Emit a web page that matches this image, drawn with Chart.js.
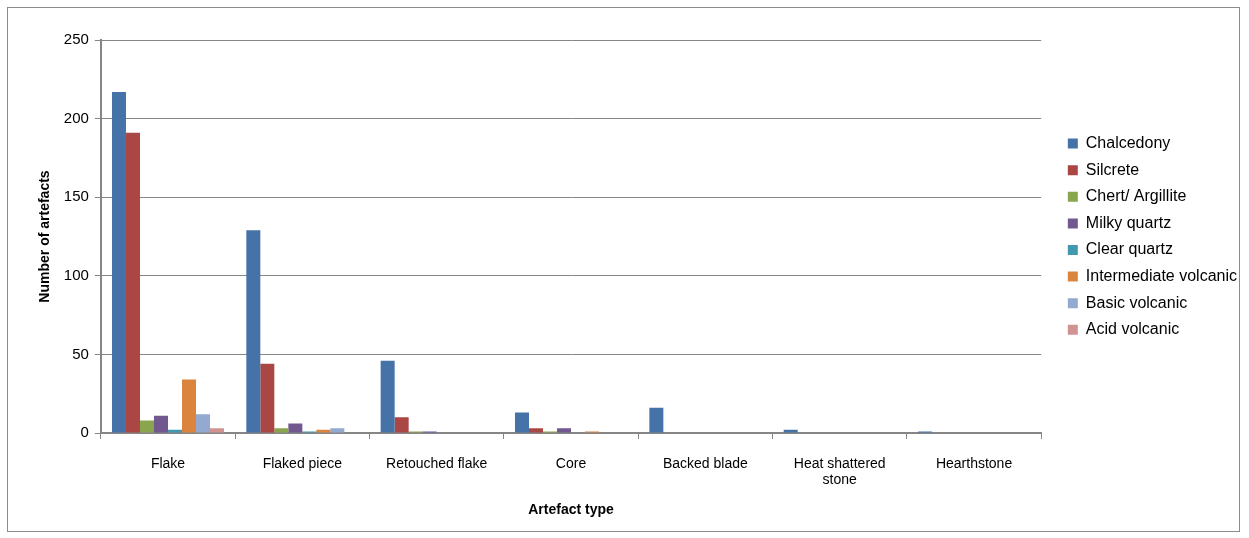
<!DOCTYPE html>
<html>
<head>
<meta charset="utf-8">
<script src="https://cdn.jsdelivr.net/npm/chart.js@4"></script>
<style>
  html, body { margin: 0; padding: 0; background: #fff; }
  #wrap { position: relative; width: 1249px; height: 538px; }
  #frame { position: absolute; left: 7px; top: 7px; width: 1233px; height: 525px; border: 1px solid #8c8c8c; box-sizing: border-box; pointer-events: none; }
  canvas { position: absolute; left: 0; top: 0; }
</style>
</head>
<body>
<div id="wrap">
  <canvas id="grafico" width="1249" height="538"></canvas>
  <div id="frame"></div>
</div>
<script>
// Categorias e séries
const tipos = ['Flake', 'Flaked piece', 'Retouched flake', 'Core', 'Backed blade', ['Heat shattered', 'stone'], 'Hearthstone'];
const materiais = ['Chalcedony', 'Silcrete', 'Chert/ Argillite', 'Milky quartz', 'Clear quartz', 'Intermediate volcanic', 'Basic volcanic', 'Acid volcanic'];

const chalcedony   = [217, 129, 46, 13, 16, 2, 1];
const silcrete     = [191, 44, 10, 3, 0, 0, 0];
const chert        = [8, 3, 1, 1, 0, 0, 0];
const milkyQuartz  = [11, 6, 1, 3, 0, 0, 0];
const clearQuartz  = [2, 1, 0, 0, 0, 0, 0];
const intermediate = [34, 2, 0, 1, 0, 0, 0];
const basic        = [12, 3, 0, 0, 0, 0, 0];
const acid         = [3, 0, 0, 0, 0, 0, 0];

const yTicks = [0, 50, 100, 150, 200, 250];

const cores = ['#4572A7', '#AA4643', '#89A54E', '#71588F', '#4198AF', '#DB843D', '#93A9CF', '#D19392'];
const series = [chalcedony, silcrete, chert, milkyQuartz, clearQuartz, intermediate, basic, acid];

const fonte = 'Liberation Sans, Arial, sans-serif';

const ctx = document.getElementById('grafico').getContext('2d');
new Chart(ctx, {
    type: 'bar',
    data: {
        labels: tipos,
        datasets: series.map((valores, i) => ({
            label: materiais[i],
            data: valores,
            backgroundColor: cores[i],
            borderWidth: 0,
            categoryPercentage: 0.834,
            barPercentage: 1
        }))
    },
    options: {
        responsive: false,
        animation: false,
        layout: { padding: { top: 40, left: 33, right: 2, bottom: 15 } },
        plugins: {
            tooltip: { enabled: false },
            legend: {
                position: 'right',
                align: 'start',
                title: { display: true, text: ' ', font: { size: 10 }, padding: { top: 0, bottom: 73 } },
                labels: {
                    boxWidth: 10,
                    boxHeight: 10,
                    padding: 10.6,
                    color: '#000',
                    font: { family: fonte, size: 16 }
                }
            }
        },
        scales: {
            x: {
                offset: true,
                grid: { offset: true, drawOnChartArea: false, drawTicks: true, tickLength: 6, color: '#868686' },
                border: { color: '#868686', width: 2 },
                ticks: { color: '#000', font: { family: fonte, size: 14, lineHeight: 1.15 }, padding: 17, maxRotation: 0 },
                title: { display: true, text: 'Artefact type', color: '#000', font: { family: fonte, size: 14, weight: 'bold' }, padding: { top: -3 } }
            },
            y: {
                min: 0,
                max: 250,
                afterBuildTicks: axis => { axis.ticks = yTicks.map(v => ({ value: v })); },
                grid: { color: '#868686', tickLength: 6 },
                border: { color: '#868686', width: 2 },
                ticks: { color: '#000', font: { family: fonte, size: 15 }, padding: 6 },
                title: { display: true, text: 'Number of artefacts', color: '#000', font: { family: fonte, size: 14, weight: 'bold' }, padding: { bottom: 4 } }
            },
            // espaço vazio entre a área do gráfico e a legenda
            vazio: {
                type: 'linear',
                position: 'right',
                grid: { display: false },
                border: { display: false },
                ticks: { display: false },
                afterFit: axis => { axis.width = 16; }
            }
        }
    }
});
</script>
</body>
</html>
